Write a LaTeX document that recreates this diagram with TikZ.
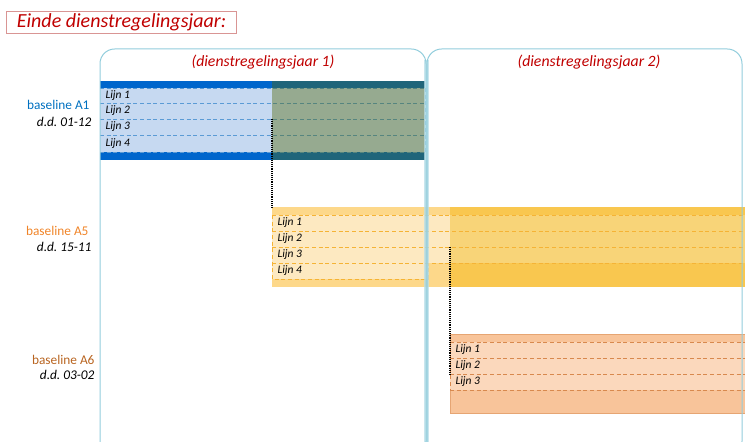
\documentclass[tikz,border=0pt]{standalone}
\usepackage{fontspec}
\setmainfont{Carlito}
\frenchspacing
\definecolor{titlered}{RGB}{192,0,0}
\definecolor{titleframe}{RGB}{217,149,148}
\definecolor{yearline}{RGB}{146,205,220}
\definecolor{yearband}{RGB}{183,222,232}
\definecolor{aonestrip}{RGB}{0,102,204}
\definecolor{aonefill}{RGB}{198,217,241}
\definecolor{aonedash}{RGB}{91,155,213}
\definecolor{aoneover}{RGB}{80,100,0}
\definecolor{aonetext}{RGB}{0,112,192}
\definecolor{afivebar}{RGB}{253,216,138}
\definecolor{afivedark}{RGB}{249,199,79}
\definecolor{afiverow}{RGB}{253,233,193}
\definecolor{afiverowdark}{RGB}{248,212,120}
\definecolor{afivedash}{RGB}{245,179,53}
\definecolor{afivetext}{RGB}{240,132,40}
\definecolor{asixbar}{RGB}{248,196,154}
\definecolor{asixframe}{RGB}{230,165,115}
\definecolor{asixrow}{RGB}{251,216,188}
\definecolor{asixdash}{RGB}{216,137,78}
\definecolor{asixtext}{RGB}{184,100,32}
\tikzset{every picture/.style={line width=0.75pt}}

\begin{document}
\begin{tikzpicture}[x=0.75pt,y=0.75pt,yscale=-1,xscale=1,
    yearbox/.style={draw=yearline, rounded corners=11pt},
    rowline/.style={dash pattern={on 3pt off 2pt}, line width=0.6pt},
    linkline/.style={draw=black, dash pattern={on 0.7pt off 0.7pt}, line width=0.8pt},
    lijn/.style={anchor=west, inner sep=0.75pt, font=\fontsize{8.6}{10}\selectfont\itshape},
    blname/.style={anchor=east, inner sep=0.75pt, font=\fontsize{10}{12}\selectfont},
    bldate/.style={anchor=east, inner sep=0.75pt, font=\fontsize{10}{12}\selectfont\itshape},
    yeartitle/.style={inner sep=0.75pt, text=titlered, font=\fontsize{11.8}{14}\selectfont\itshape}]
    \useasboundingbox (0,0) rectangle (745,442);
    \clip (0,0) rectangle (745,442);

    %Shape: Rectangle [baseline A1]
    \fill [aonefill] (100,81) rectangle (425,160);
    \fill [aonestrip] (100,81) rectangle (425,88);
    \fill [aonestrip] (100,152) rectangle (425,160);
    %Straight Lines [A1 rows]
    \draw [aonedash, rowline] (100,88) -- (425,88);
    \draw [aonedash, rowline] (100,103) -- (425,103);
    \draw [aonedash, rowline] (100,119) -- (425,119);
    \draw [aonedash, rowline] (100,135) -- (425,135);
    \draw [aonedash, rowline] (100,152) -- (425,152);
    \draw [aonedash, rowline] (425,88) -- (425,152);
    %Shape: Rectangle [A1 after end of year]
    \fill [aoneover, fill opacity=0.4] (272,81) rectangle (425,160);

    %Shape: Rectangle [baseline A5]
    \fill [afivebar] (272,207) rectangle (745,287);
    \fill [afivedark] (450,207) rectangle (745,287);
    \fill [afiverow] (272,215) rectangle (450,263);
    \fill [afiverow] (272,263) rectangle (428,279);
    \fill [afiverowdark] (450,215) rectangle (745,263);
    %Straight Lines [A5 rows]
    \draw [afivedash, rowline] (272,215) -- (745,215);
    \draw [afivedash, rowline] (272,231) -- (745,231);
    \draw [afivedash, rowline] (272,247) -- (745,247);
    \draw [afivedash, rowline] (272,263) -- (745,263);
    \draw [afivedash, rowline] (272,215) -- (272,279) -- (428,279) -- (428,263);

    %Shape: Rectangle [baseline A6]
    \draw [asixframe, fill=asixbar, line width=0.6pt] (450,334) rectangle (750,413);
    \fill [asixrow] (450,342) rectangle (745,390);
    %Straight Lines [A6 rows]
    \draw [asixdash, rowline] (450,342) -- (745,342);
    \draw [asixdash, rowline] (450,358) -- (745,358);
    \draw [asixdash, rowline] (450,374) -- (745,374);
    \draw [asixdash, rowline] (450,390) -- (745,390);
    \draw [asixdash, rowline] (450,342) -- (450,390);

    %Shape: Rectangle [gap between the years]
    \fill [yearband, fill opacity=0.75] (424,60) rectangle (429,442);
    %Shape: Rounded Rectangle [dienstregelingsjaar 1]
    \draw [yearbox] (100,49) rectangle (426,456);
    %Shape: Rounded Rectangle [dienstregelingsjaar 2]
    \draw [yearbox] (427,49) rectangle (742,456);

    %Straight Lines [links]
    \coordinate (aoneend) at (272,119);
    \coordinate (afivestart) at (272,207);
    \coordinate (afiveend) at (450,247);
    \coordinate (asixstart) at (450,374);
    \draw [linkline] (aoneend) -- (afivestart);
    \draw [linkline] (afiveend) -- (asixstart);

    % Text Node
    \node (title) [draw=titleframe, line width=0.6pt, text=titlered, inner sep=0pt, minimum width=172.5pt, minimum height=16.5pt, font=\fontsize{15}{17}\selectfont\itshape] at (121.5,22) {Einde dienstregelingsjaar:};
    % Text Node
    \node (jaarone) [yeartitle] at (263,62) {(dienstregelingsjaar 1)};
    % Text Node
    \node (jaartwo) [yeartitle] at (589,62) {(dienstregelingsjaar 2)};
    % Text Node
    \node (aonename) [blname, text=aonetext] at (91,105) {baseline A1};
    \node (aonedate) [bldate] at (93,122) {d.d. 01-12};
    % Text Node
    \node (afivename) [blname, text=afivetext] at (90,231) {baseline A5};
    \node (afivedate) [bldate] at (93,247) {d.d. 15-11};
    % Text Node
    \node (asixname) [blname, text=asixtext] at (96,360) {baseline A6};
    \node (asixdate) [bldate] at (96,375) {d.d. 03-02};
    % Text Node [A1 rows]
    \node (aonel1) [lijn] at (104,95.5) {Lijn 1};
    \node (aonel2) [lijn] at (104,111) {Lijn 2};
    \node (aonel3) [lijn] at (104,127) {Lijn 3};
    \node (aonel4) [lijn] at (104,143.5) {Lijn 4};
    % Text Node [A5 rows]
    \node (afivel1) [lijn] at (276,223) {Lijn 1};
    \node (afivel2) [lijn] at (276,239) {Lijn 2};
    \node (afivel3) [lijn] at (276,255) {Lijn 3};
    \node (afivel4) [lijn] at (276,271) {Lijn 4};
    % Text Node [A6 rows]
    \node (asixl1) [lijn] at (454,350) {Lijn 1};
    \node (asixl2) [lijn] at (454,366) {Lijn 2};
    \node (asixl3) [lijn] at (454,382) {Lijn 3};

\end{tikzpicture}
\end{document}
